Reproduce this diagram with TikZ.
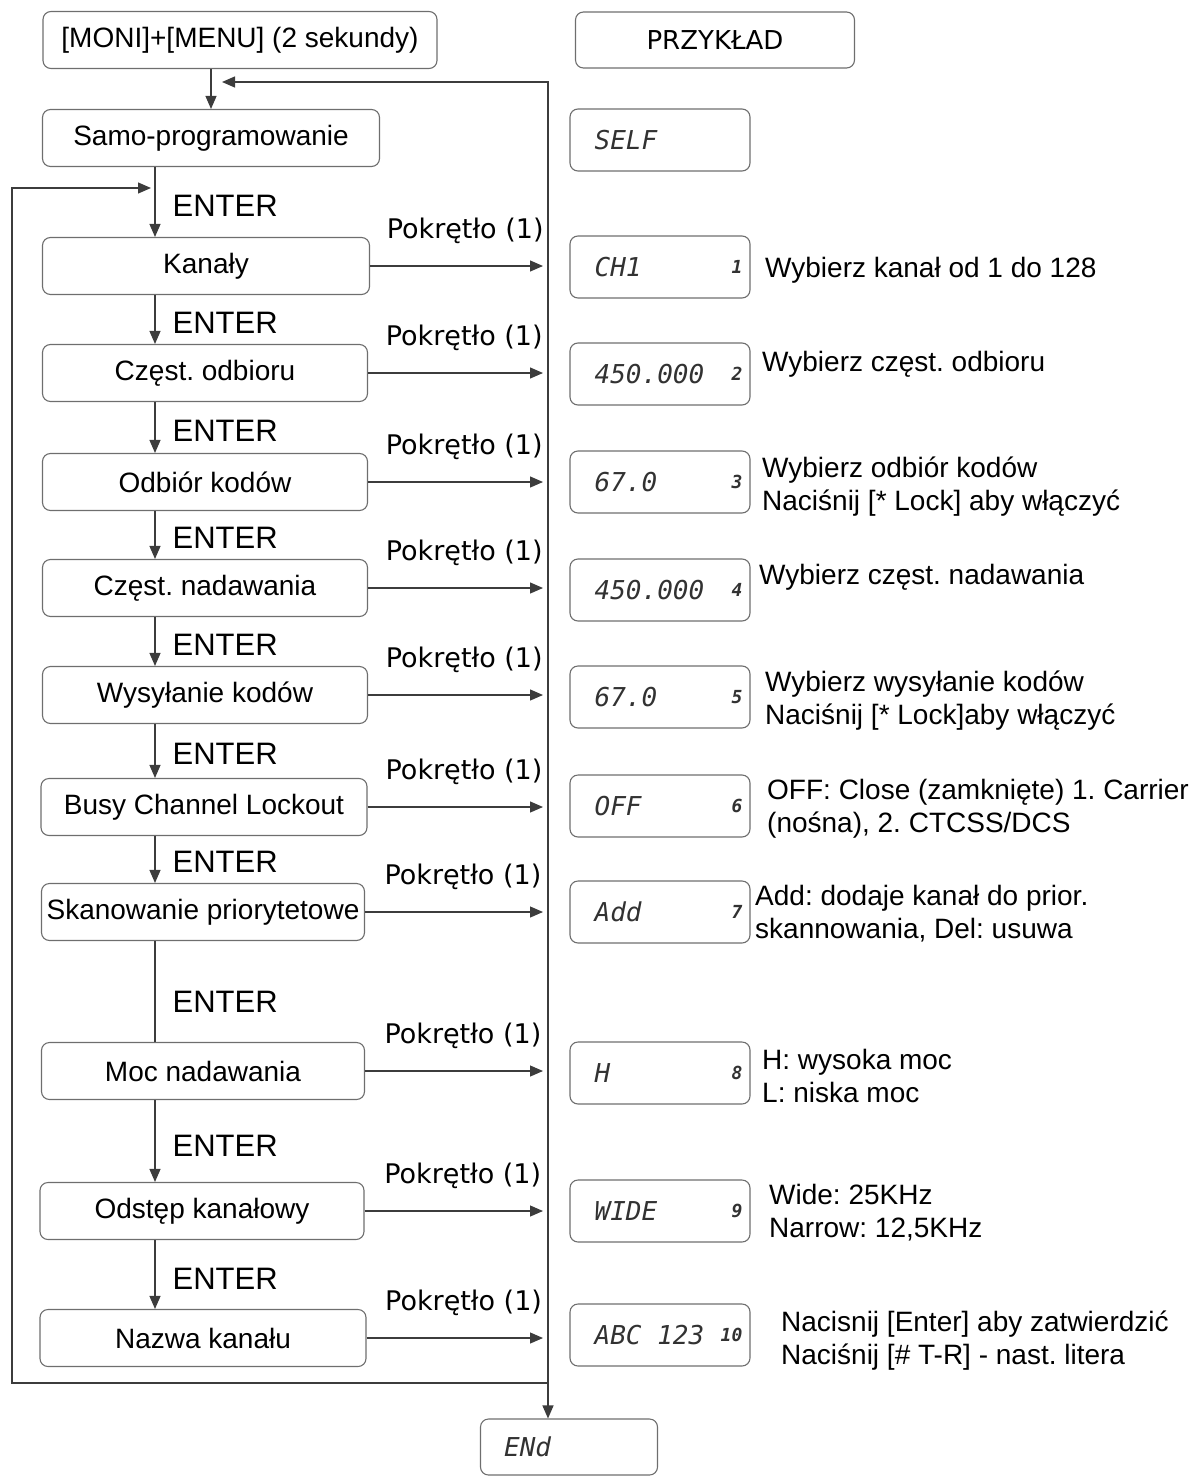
\documentclass[tikz,border=0pt]{standalone}
\usepackage{fontspec}
\setmainfont{Liberation Sans}
\newfontfamily\knobfam{DejaVu Sans}
\newfontfamily\lcdfam{DejaVu Sans Mono}
\usepackage{tikz}
\usetikzlibrary{arrows.meta,positioning,calc}
\frenchspacing
\definecolor{framegrey}{RGB}{110,110,110}
\definecolor{wiregrey}{RGB}{60,60,60}
\definecolor{lcdink}{RGB}{50,50,50}
\tikzset{
  menubox/.style={draw=framegrey,rounded corners=8pt,inner sep=0pt,line width=1.1pt,
                  font=\fontsize{28}{33}\selectfont,minimum height=57pt},
  lcdbox/.style={draw=framegrey,rounded corners=8pt,inner sep=0pt,line width=1.1pt,
                 minimum width=180pt,minimum height=62pt},
  lcdtxt/.style={font=\lcdfam\itshape\fontsize{26}{30}\selectfont,text=lcdink,inner sep=0pt},
  lcdnum/.style={font=\lcdfam\itshape\bfseries\fontsize{18}{21}\selectfont,text=lcdink,inner sep=0pt},
  desc/.style={anchor=west,align=left,inner sep=0pt,font=\fontsize{28}{33}\selectfont},
  entlbl/.style={inner sep=0pt,font=\fontsize{31}{36}\selectfont},
  knob/.style={inner sep=0pt,font=\knobfam\fontsize{27}{32}\selectfont},
  flow/.style={-{Triangle[length=13pt,width=11pt]},line width=1.2pt,draw=wiregrey},
  wire/.style={line width=1.2pt,draw=wiregrey},
}
\begin{document}
\begin{tikzpicture}[x=1pt,y=-1pt]
  \useasboundingbox (0,0) rectangle (1202,1477);

  % left column: menu steps
  \node[menubox,minimum width=394pt] (start) at (240,40)    {[MONI]+[MENU] (2 sekundy)};
  \node[menubox,minimum width=337pt] (samo)  at (211,138)   {Samo-programowanie};
  \node[menubox,minimum width=327pt] (kan)   at (206,266)   {Kanały};
  \node[menubox,minimum width=325pt] (odb)   at (205,373)   {Częst. odbioru};
  \node[menubox,minimum width=325pt] (kod)   at (205,482)   {Odbiór kodów};
  \node[menubox,minimum width=325pt] (nad)   at (205,588)   {Częst. nadawania};
  \node[menubox,minimum width=325pt] (wys)   at (205,695)   {Wysyłanie kodów};
  \node[menubox,minimum width=326pt] (busy)  at (204,807)   {Busy Channel Lockout};
  \node[menubox,minimum width=323pt] (skan)  at (203,912)   {Skanowanie priorytetowe};
  \node[menubox,minimum width=323pt] (moc)   at (203,1071)  {Moc nadawania};
  \node[menubox,minimum width=324pt] (ods)   at (202,1211)  {Odstęp kanałowy};
  \node[menubox,minimum width=326pt] (naz)   at (203,1338)  {Nazwa kanału};

  % right column: display examples
  \node[lcdbox,minimum width=279pt,minimum height=56pt] (przyk) at (715,40)
    {\knobfam\fontsize{26}{30}\selectfont PRZYKŁAD};
  \foreach \nm/\cy/\val/\num in {lself/140/SELF/, lch/267/CH1/1, lrx/374/450.000/2,
      lrc/482/67.0/3, ltx/590/450.000/4, ltc/697/67.0/5, lbcl/806/OFF/6,
      lpri/912/Add/7, lpow/1073/H/8, lstep/1211/WIDE/9, lname/1335/ABC 123/10}{
    \node[lcdbox] (\nm) at (660,\cy) {};
    \node[lcdtxt,right=25pt of \nm.west] {\val};
    \node[lcdnum,left=8pt of \nm.east] {\num};
  }
  \node[lcdbox,minimum width=177pt,minimum height=56pt] (endb) at (569,1447) {};
  \node[lcdtxt,right=24pt of endb.west] {ENd};

  % descriptions
  \node[desc] (dch)   at (765,270)  {Wybierz kanał od 1 do 128};
  \node[desc] (drx)   at (762,364)  {Wybierz częst. odbioru};
  \node[desc] (drc)   at (762,487)  {Wybierz odbiór kodów\\Naciśnij [* Lock] aby włączyć};
  \node[desc] (dtx)   at (759,577)  {Wybierz częst. nadawania};
  \node[desc] (dtc)   at (765,701)  {Wybierz wysyłanie kodów\\Naciśnij [* Lock]aby włączyć};
  \node[desc] (dbcl)  at (767,809)  {OFF: Close (zamknięte) 1. Carrier\\(nośna), 2. CTCSS/DCS};
  \node[desc] (dpri)  at (755,914)  {Add: dodaje kanał do prior.\\skannowania, Del: usuwa};
  \node[desc] (dpow)  at (762,1076) {H: wysoka moc\\L: niska moc};
  \node[desc] (dstep) at (769,1213) {Wide: 25KHz\\Narrow: 12,5KHz};
  \node[desc] (dname) at (781,1341) {Nacisnij [Enter] aby zatwierdzić\\Naciśnij [\# T-R] - nast. litera};

  % connectors
  \coordinate (stem)    at (155,0);
  \coordinate (tipx)    at (543,0);
  \coordinate (retTop)  at (548,82);
  \coordinate (retTip)  at (222,82);
  \coordinate (retBot)  at (548,1383);
  \coordinate (loopBot) at (12,1383);
  \coordinate (loopTop) at (12,188);
  \coordinate (loopTip) at (151,188);

  \draw[flow] (start.south -| samo.north) -- (samo.north);
  \foreach \a/\b in {samo/kan,kan/odb,odb/kod,kod/nad,nad/wys,wys/busy,busy/skan,moc/ods,ods/naz}
    \draw[flow] (\a.south -| stem) -- node[entlbl,pos=0.56,right=17pt] {ENTER} (\b.north -| stem);
  \draw[wire] (skan.south -| stem) -- node[entlbl,pos=0.6,right=17pt] {ENTER} (moc.north -| stem);

  \foreach \b in {kan,odb,kod,nad,wys,busy,skan,moc,ods,naz}
    \draw[flow] (\b.east) -- node[knob,pos=0.55,above=22pt] {Pokrętło (1)} (\b.east -| tipx);

  \draw[flow] (retBot) -- (retTop) -- (retTip);
  \draw[flow] (retBot) -- (retBot |- endb.north);
  \draw[flow] (retBot) -- (loopBot) -- (loopTop) -- (loopTip);
\end{tikzpicture}
\end{document}
